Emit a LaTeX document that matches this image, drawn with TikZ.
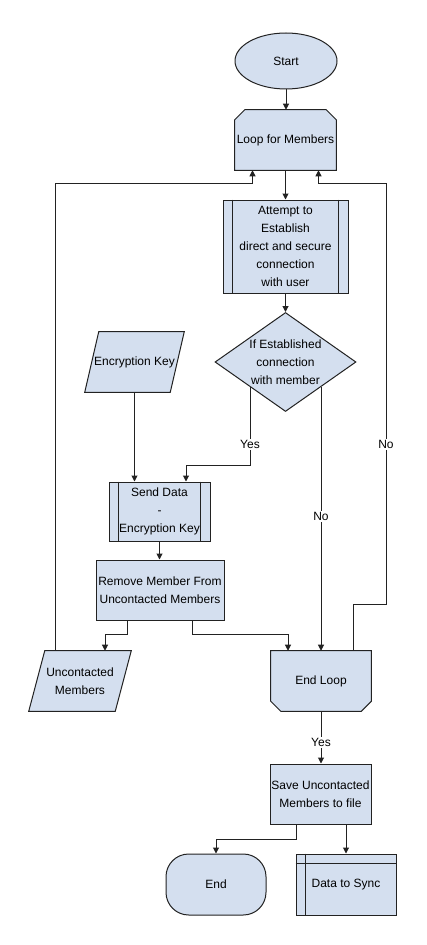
\documentclass[tikz,border=0pt]{standalone}
\usepackage{fontspec}
\setmainfont{Liberation Sans}
\usetikzlibrary{arrows.meta,shapes.geometric,calc}
\definecolor{fillb}{HTML}{D4DFEF}
\definecolor{lnc}{HTML}{222222}
\tikzset{
  shp/.style={draw=lnc, fill=fillb, line width=0.75pt},
  box/.style={shp, rectangle, inner sep=0pt, align=center},
  ghost/.style={rectangle, inner sep=0pt, draw=none},
  txt/.style={align=center, inner sep=0pt},
  arr/.style={draw=lnc, line width=0.75pt, -{Triangle[length=4.5pt,width=4.5pt]}},
  thin/.style={draw=lnc, line width=0.75pt},
  lbl/.style={fill=white, inner sep=1pt}
}
\begin{document}
\begin{tikzpicture}[x=0.75pt,y=-0.75pt, font=\fontsize{9}{13.5}\selectfont]
\fill[white] (0,0) rectangle (426,945);
\useasboundingbox (0,0) rectangle (426,945);

% Start
\node[shp, ellipse, minimum width=102*0.75pt, minimum height=56*0.75pt, inner sep=0pt] (start) at (286,61) {Start};

% Loop for Members
\node[ghost, minimum width=101*0.75pt, minimum height=60*0.75pt] (loop) at (285.5,140) {};
\draw[shp] (loop.south west) -- ($(loop.north west)+(0,10)$) -- ($(loop.north west)+(10,0)$) -- ($(loop.north east)+(-10,0)$) -- ($(loop.north east)+(0,10)$) -- (loop.south east) -- cycle;
\node[txt] at (loop) {Loop for Members};

% Attempt
\node[box, minimum width=125*0.75pt, minimum height=93*0.75pt] (att) at (285.5,246.5) {Attempt to\\Establish\\direct and secure\\connection\\with user};
\draw[thin] ($(att.north west)+(10,0)$) -- ($(att.south west)+(10,0)$);
\draw[thin] ($(att.north east)+(-10,0)$) -- ($(att.south east)+(-10,0)$);

% Decision
\node[shp, diamond, minimum width=141*0.75pt, minimum height=99*0.75pt, inner sep=0pt] (dec) at (285.5,362) {};
\node[txt] at (dec) {If Established\\connection\\with member};

% Encryption Key
\node[ghost, minimum width=99*0.75pt, minimum height=60*0.75pt] (enc) at (134.5,362) {};
\draw[shp] ($(enc.north west)+(14,0)$) -- (enc.north east) -- ($(enc.south east)+(-14,0)$) -- (enc.south west) -- cycle;
\node[txt] at (enc) {Encryption Key};

% Send Data
\node[box, minimum width=101*0.75pt, minimum height=59*0.75pt] (send) at (159.5,511.5) {Send Data\\-\\Encryption Key};
\draw[thin] ($(send.north west)+(10,0)$) -- ($(send.south west)+(10,0)$);
\draw[thin] ($(send.north east)+(-10,0)$) -- ($(send.south east)+(-10,0)$);

% Remove Member
\node[box, minimum width=128*0.75pt, minimum height=60*0.75pt] (rem) at (160,590) {Remove Member From\\Uncontacted Members};

% Uncontacted Members
\node[ghost, minimum width=102*0.75pt, minimum height=60*0.75pt] (unc) at (80,681) {};
\draw[shp] ($(unc.north west)+(16,0)$) -- (unc.north east) -- ($(unc.south east)+(-16,0)$) -- (unc.south west) -- cycle;
\node[txt] at (unc) {Uncontacted\\Members};

% End Loop
\node[ghost, minimum width=100*0.75pt, minimum height=60*0.75pt] (endl) at (321,681) {};
\draw[shp] (endl.north west) -- (endl.north east) -- ($(endl.south east)+(0,-10)$) -- ($(endl.south east)+(-10,0)$) -- ($(endl.south west)+(10,0)$) -- ($(endl.south west)+(0,-10)$) -- cycle;
\node[txt] at (endl) {End Loop};

% Save
\node[box, minimum width=101*0.75pt, minimum height=60*0.75pt] (save) at (320.5,794) {Save Uncontacted\\Members to file};

% End
\node[shp, rectangle, rounded corners=17pt, minimum width=100*0.75pt, minimum height=61*0.75pt, inner sep=0pt] (endn) at (216,884.5) {End};

% Data to Sync
\node[box, minimum width=100*0.75pt, minimum height=61*0.75pt] (sync) at (346,884.5) {Data to Sync};
\draw[thin] ($(sync.north west)+(10,0)$) -- ($(sync.south west)+(10,0)$);
\draw[thin] ($(sync.north west)+(0,10)$) -- ($(sync.north east)+(0,10)$);

% Connectors
\draw[arr] (start.south) -- (start.south |- loop.north);
\draw[arr] (loop.south) -- (att.north);
\draw[arr] (att.south) -- (dec.north);
\draw[arr] (dec.south west) -- node[lbl, pos=0.74]{Yes} ++(0,78.25) -| ($(send.north)+(26.5,0)$);
\draw[arr] (dec.south east) -- node[lbl, pos=0.49]{No} (dec.south east |- endl.north);
\draw[arr] (enc.south) -- (enc.south |- send.north);
\draw[arr] (send.south) -- (send.south |- rem.north);
\draw[arr] ($(rem.south)+(-33,0)$) -- ++(0,14) -| ($(unc.north)+(25,0)$);
\draw[arr] ($(rem.south)+(32,0)$) -- ++(0,14) -| ($(endl.north)+(-33,0)$);
\draw[arr] ($(unc.north)+(-25,0)$) -- ++(0,-467) -| ($(loop.south)+(-33,0)$);
\draw[arr] ($(endl.north)+(32,0)$) -- ++(0,-46) -- ++(33,0) -- node[lbl, pos=0.38]{No} ++(0,-421) -| ($(loop.south)+(33,0)$);
\draw[arr] (endl.south) -- node[lbl, pos=0.6]{Yes} (endl.south |- save.north);
\draw[arr] ($(save.south)+(-24.5,0)$) -- ++(0,15) -| (endn.north);
\draw[arr] (sync.north |- save.south) -- (sync.north);
\end{tikzpicture}
\end{document}
